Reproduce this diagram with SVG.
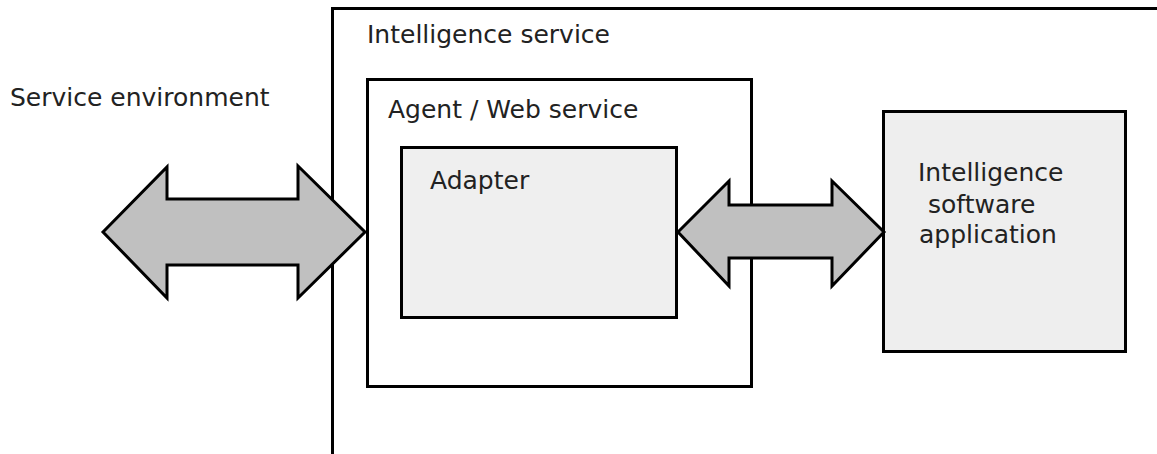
<svg xmlns="http://www.w3.org/2000/svg" width="1157" height="454" viewBox="0 0 1157 454">
<style>
.box{stroke:#000;stroke-width:3}
.lbl{font-family:"DejaVu Sans",sans-serif;font-size:25px;fill:#222}
.arrow{fill:#c0c0c0;stroke:#000;stroke-width:3;stroke-linejoin:miter}
</style>
<rect width="1157" height="454" fill="#fff"/>
<g id="service-environment">
<text class="lbl" x="10" y="106">Service environment</text>
</g>
<g id="intelligence-service">
<rect class="box" x="332.5" y="8.5" width="840" height="460" fill="#fff"/>
<text class="lbl" x="367" y="43">Intelligence service</text>
</g>
<g id="agent-web-service">
<rect class="box" x="367.5" y="79.5" width="384" height="307" fill="#fff"/>
<text class="lbl" x="388" y="118">Agent / Web service</text>
</g>
<g id="adapter">
<rect class="box" x="401.5" y="147.5" width="275" height="170" fill="#efefef"/>
<text class="lbl" x="430" y="189">Adapter</text>
</g>
<g id="intelligence-software-application">
<rect class="box" x="883.5" y="111.5" width="242" height="240" fill="#eeeeee"/>
<text class="lbl" x="918" y="181">Intelligence</text>
<text class="lbl" x="928" y="213">software</text>
<text class="lbl" x="919" y="243">application</text>
</g>
<g id="connectors">
<polygon class="arrow" points="103,232 167,167 167,199 298,199 298,166 365,232 298,298 298,265 167,265 167,298"/>
<polygon class="arrow" points="678,232 729,181 729,205 832,205 832,181 884,232 832,286 832,258 729,258 729,286"/>
</g>
</svg>
